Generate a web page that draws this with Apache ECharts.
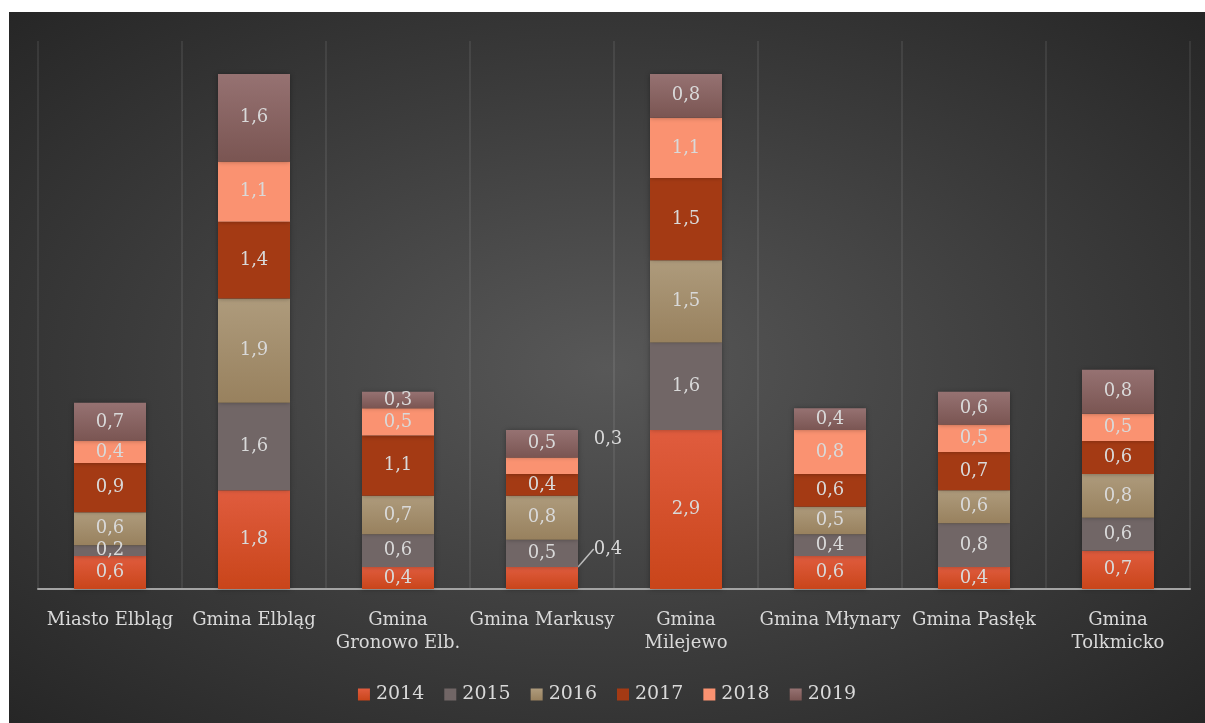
<!DOCTYPE html>
<html>
<head>
<meta charset="utf-8">
<script src="https://cdn.jsdelivr.net/npm/echarts@6/dist/echarts.min.js"></script>
<style>
  html, body { margin: 0; padding: 0; background: #ffffff; width: 1205px; height: 723px; overflow: hidden; }
  #chart {
    position: absolute; left: 9px; top: 12px; width: 1196px; height: 711px;
    background: radial-gradient(ellipse farthest-corner at 50% 50%, #585858 0%, #3c3c3c 55%, #262626 100%);
  }
</style>
</head>
<body>
<div id="chart"></div>
<script>
// Gminy (categories along the x axis)
const categories = [
  'Miasto Elbląg', 'Gmina Elbląg', 'Gmina\nGronowo Elb.', 'Gmina Markusy',
  'Gmina\nMilejewo', 'Gmina Młynary', 'Gmina Pasłęk', 'Gmina\nTolkmicko'
];
const years = ['2014', '2015', '2016', '2017', '2018', '2019'];

// Values per year, one entry per gmina
const v2014 = [0.6, 1.8, 0.4, 0.4, 2.9, 0.6, 0.4, 0.7];
const v2015 = [0.2, 1.6, 0.6, 0.5, 1.6, 0.4, 0.8, 0.6];
const v2016 = [0.6, 1.9, 0.7, 0.8, 1.5, 0.5, 0.6, 0.8];
const v2017 = [0.9, 1.4, 1.1, 0.4, 1.5, 0.6, 0.7, 0.6];
const v2018 = [0.4, 1.1, 0.5, 0.3, 1.1, 0.8, 0.5, 0.5];
const v2019 = [0.7, 1.6, 0.3, 0.5, 0.8, 0.4, 0.6, 0.8];
const seriesValues = [v2014, v2015, v2016, v2017, v2018, v2019];

const FONT = 'DejaVu Serif';
const TEXT = '#d9d9d9';

function vgrad(top, bottom) {
  return new echarts.graphic.LinearGradient(0, 0, 0, 1, [
    { offset: 0, color: top }, { offset: 1, color: bottom }
  ]);
}
const fills = [
  vgrad('#e05c3e', '#c9451a'),
  '#716666',
  vgrad('#ae9b7c', '#98815e'),
  '#a43a14',
  '#fa9271',
  vgrad('#967272', '#7a5552')
];

// Markusy (index 3): the small 2014 and 2018 labels sit beside the bar
const MARKUSY = 3;
const labelShift = { 0: [66, -29], 4: [66, -26] };

const fmt = p => p.value.toFixed(1).replace('.', ',');

const series = seriesValues.map((vals, si) => ({
  name: years[si],
  type: 'bar',
  stack: 'total',
  barWidth: '50%',
  data: vals.map((v, ci) => {
    if (ci === MARKUSY && si === 0) {
      return { value: v, labelLine: { show: true, lineStyle: { color: '#bfbfbf', width: 1.5 } } };
    }
    return v;
  }),
  itemStyle: {
    color: fills[si],
    shadowColor: 'rgba(0,0,0,0.35)',
    shadowBlur: 5
  },
  label: {
    show: true,
    position: 'inside',
    formatter: fmt,
    color: TEXT,
    fontFamily: FONT,
    fontSize: 18
  },
  labelLayout: function (params) {
    if (params.dataIndex === MARKUSY && labelShift[si]) {
      return { dx: labelShift[si][0], dy: labelShift[si][1] };
    }
    return {};
  }
}));

const chart = echarts.init(document.getElementById('chart'), null, { renderer: 'canvas' });
chart.setOption({
  backgroundColor: 'transparent',
  animation: false,
  textStyle: { fontFamily: FONT },
  grid: { left: 29, right: 15, top: 29, bottom: 134, containLabel: false },
  legend: {
    data: years,
    bottom: 14,
    left: 'center',
    itemWidth: 12,
    itemHeight: 12,
    itemGap: 20,
    icon: 'rect',
    textStyle: { color: TEXT, fontFamily: FONT, fontSize: 19, padding: [0, 0, 0, 1] }
  },
  xAxis: {
    type: 'category',
    data: categories,
    axisLine: { show: true, lineStyle: { color: '#a3a3a3', width: 2 } },
    axisTick: { show: false },
    axisLabel: {
      color: TEXT, fontFamily: FONT, fontSize: 18, lineHeight: 23, margin: 20, interval: 0
    },
    splitLine: { show: true, lineStyle: { color: 'rgba(255,255,255,0.08)', width: 2 } }
  },
  yAxis: {
    type: 'value',
    min: 0, max: 10, interval: 1,
    show: false,
    splitLine: { show: false }
  },
  series: series
});
</script>
</body>
</html>
